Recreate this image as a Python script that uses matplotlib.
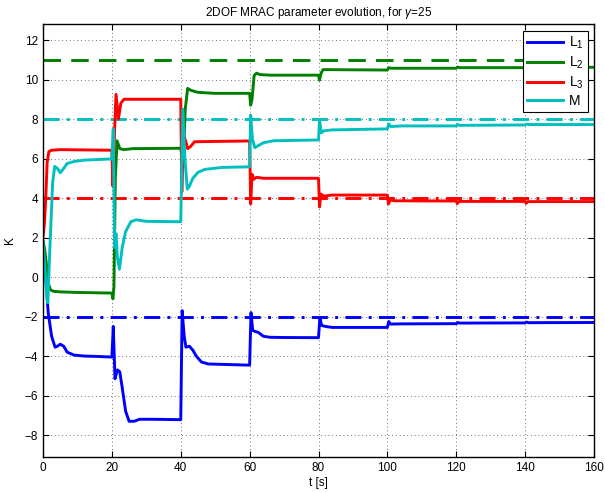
import numpy as np
import matplotlib
matplotlib.use('Agg')
import matplotlib.pyplot as plt

# =============================================================================
# Parameter traces (keypoints, t in seconds)
# =============================================================================
t_L1 = [0, 0.8, 1.5, 2.5, 3.5, 4.2, 5, 6, 7, 9, 12, 16, 20,
        20.4, 20.9, 21.6, 22.3, 23, 24, 25, 26.5, 28, 32, 40,
        40.4, 41, 41.5, 42.5, 43.5, 44.5, 46, 48, 52, 60,
        60.4, 60.9, 61.5, 62.5, 64, 66, 70, 80,
        80.4, 80.9, 82, 84, 90, 100,
        100.4, 100.9, 104, 120, 120.4, 121, 140, 140.4, 141, 160]
L1 = [1.8, 0, -1.8, -3.0, -3.55, -3.5, -3.4, -3.5, -3.8, -3.95, -4.0, -4.02, -4.05,
      -2.5, -5.15, -4.7, -4.8, -5.6, -6.8, -7.3, -7.3, -7.2, -7.2, -7.22,
      -1.7, -3.0, -3.55, -3.5, -3.7, -4.0, -4.3, -4.4, -4.42, -4.46,
      -1.8, -2.7, -2.75, -2.8, -3.0, -3.05, -3.06, -3.07,
      -2.05, -2.45, -2.5, -2.55, -2.55, -2.55,
      -2.25, -2.38, -2.37, -2.36, -2.3, -2.33, -2.32, -2.28, -2.31, -2.3]

t_L2 = [0, 0.4, 0.9, 1.5, 2.2, 3, 5, 10, 20,
        20.3, 20.6, 21.0, 21.5, 22.3, 23.5, 26, 40,
        40.3, 40.7, 41.3, 42, 43, 45, 50, 60,
        60.3, 60.7, 61.3, 62, 63, 66, 80,
        80.3, 80.7, 81.3, 83, 100,
        100.4, 101, 120, 120.4, 121, 140, 140.4, 141, 160]
L2 = [1.8, 1.5, 0.8, -0.3, -0.65, -0.72, -0.75, -0.78, -0.81,
      -1.1, -0.5, 5.0, 6.9, 6.5, 6.45, 6.5, 6.52,
      6.2, 5.9, 8.5, 9.55, 9.45, 9.35, 9.3, 9.3,
      8.7, 9.0, 10.2, 10.32, 10.25, 10.22, 10.22,
      9.97, 10.3, 10.5, 10.5, 10.48,
      10.6, 10.57, 10.57, 10.63, 10.6, 10.6, 10.64, 10.62, 10.62]

t_L3 = [0, 0.4, 0.8, 1.2, 1.7, 2.5, 5, 20,
        20.3, 20.8, 21.2, 21.9, 22.6, 23.5, 26, 40,
        40.3, 40.8, 41.4, 42, 42.8, 44, 60,
        60.3, 60.7, 61.2, 62, 64, 80,
        80.3, 80.7, 81.5, 84, 100,
        100.3, 100.8, 102, 120, 120.3, 120.8, 140, 140.3, 140.8, 160]
L3 = [2.0, 2.7, 4.0, 5.8, 6.35, 6.42, 6.45, 6.42,
      4.6, 7.5, 9.25, 8.0, 8.8, 9.0, 9.0, 9.0,
      4.3, 7.2, 6.9, 6.5, 6.6, 6.85, 6.89,
      3.7, 5.2, 4.95, 5.05, 5.0, 5.0,
      3.55, 4.2, 4.1, 4.15, 4.15,
      3.7, 3.9, 3.86, 3.85, 3.72, 3.83, 3.83, 3.73, 3.82, 3.82]

t_M = [0, 0.5, 1.0, 1.4, 2.0, 2.8, 3.4, 4.2, 5.0, 6.0, 7.0, 9.0, 12, 20,
       20.4, 20.8, 21.2, 21.6, 22.2, 23, 24, 25.5, 27, 30, 40,
       40.6, 41.2, 41.9, 42.5, 43.5, 45, 47, 52, 60,
       60.3, 60.8, 61.5, 62.5, 64, 67, 80,
       80.3, 80.8, 81.5, 84, 100,
       100.4, 101, 104, 120, 120.4, 121, 140, 140.4, 141, 160]
M = [1.8, 0.5, -0.8, -1.3, 1.5, 4.8, 5.6, 5.5, 5.28, 5.5, 5.75, 5.85, 5.92, 5.98,
     7.5, 1.5, 2.2, 1.0, 0.4, 1.5, 2.3, 2.8, 2.9, 2.82, 2.8,
     8.5, 6.0, 4.45, 4.6, 5.0, 5.3, 5.45, 5.55, 5.58,
     8.2, 7.0, 6.55, 6.65, 6.8, 6.9, 6.94,
     7.95, 7.3, 7.4, 7.45, 7.5,
     7.75, 7.62, 7.65, 7.65, 7.72, 7.68, 7.7, 7.74, 7.72, 7.72]

# ideal values (reference lines)
ref_L1 = -2
ref_L2 = 11
ref_L3 = 4
ref_M = 8

t_end = 160
x_ticks = list(range(0, 161, 20))
y_ticks = list(range(-8, 13, 2))

#%%
# =============================================================================
# Plot
# =============================================================================
plt.rcParams['font.family'] = ['Liberation Sans', 'DejaVu Sans']
plt.rcParams['mathtext.fontset'] = 'custom'
plt.rcParams['mathtext.rm'] = 'Liberation Sans'
plt.rcParams['mathtext.it'] = 'Liberation Sans:italic'

fig = plt.figure(figsize=(6.05, 4.93), dpi=100)
ax = fig.add_axes([0.0711, 0.073, 0.9107, 0.8783])

blue = '#0000ff'
green = '#008000'
red = '#ff0000'
cyan = '#00bfbf'
lw = 2.1

# reference lines first, solid traces go on top
ax.plot([0, t_end], [ref_L1, ref_L1], color=blue, lw=lw, dashes=[5.5, 2.5, 1, 2.5])
ax.plot([0, t_end], [ref_L2, ref_L2], color=green, lw=lw, dashes=[6, 3.5])
ax.plot([0, t_end], [ref_L3, ref_L3], color=red, lw=lw, dashes=[5.5, 2.5, 1, 2.5])
ax.plot([0, t_end], [ref_M, ref_M], color=cyan, lw=lw, dashes=[5.5, 2.5, 1, 2.5])

h1, = ax.plot(t_L1, L1, color=blue, lw=lw, label=r'L$_1$')
h2, = ax.plot(t_L2, L2, color=green, lw=lw, label=r'L$_2$')
h3, = ax.plot(t_L3, L3, color=red, lw=lw, label=r'L$_3$')
h4, = ax.plot(t_M, M, color=cyan, lw=lw, label='M')

ax.set_xlim(0, t_end)
ax.set_ylim(-9.11, 12.81)
ax.set_xticks(x_ticks)
ax.set_yticks(y_ticks)
ax.tick_params(direction='in', top=True, right=True, length=4, width=0.8,
               labelsize=8.5)
ax.grid(True, linestyle=(0, (1, 3.5)), color='#444444', lw=0.6)
for s in ax.spines.values():
    s.set_linewidth(1.0)

ax.set_title(r'2DOF MRAC parameter evolution, for $\gamma$=25', fontsize=8.5, pad=6)
ax.set_xlabel('t [s]', fontsize=8.5, labelpad=2)
ax.set_ylabel('K', fontsize=8.5, labelpad=6)

leg = ax.legend(handles=[h1, h2, h3, h4], loc='upper right',
                bbox_to_anchor=(0.989, 0.985), fontsize=10, fancybox=False,
                framealpha=1, edgecolor='black', handlelength=2.6,
                handletextpad=0.4, borderpad=0.3, labelspacing=0.25,
                borderaxespad=0)
leg.get_frame().set_linewidth(0.8)

fig.savefig('out.png', dpi=100)
